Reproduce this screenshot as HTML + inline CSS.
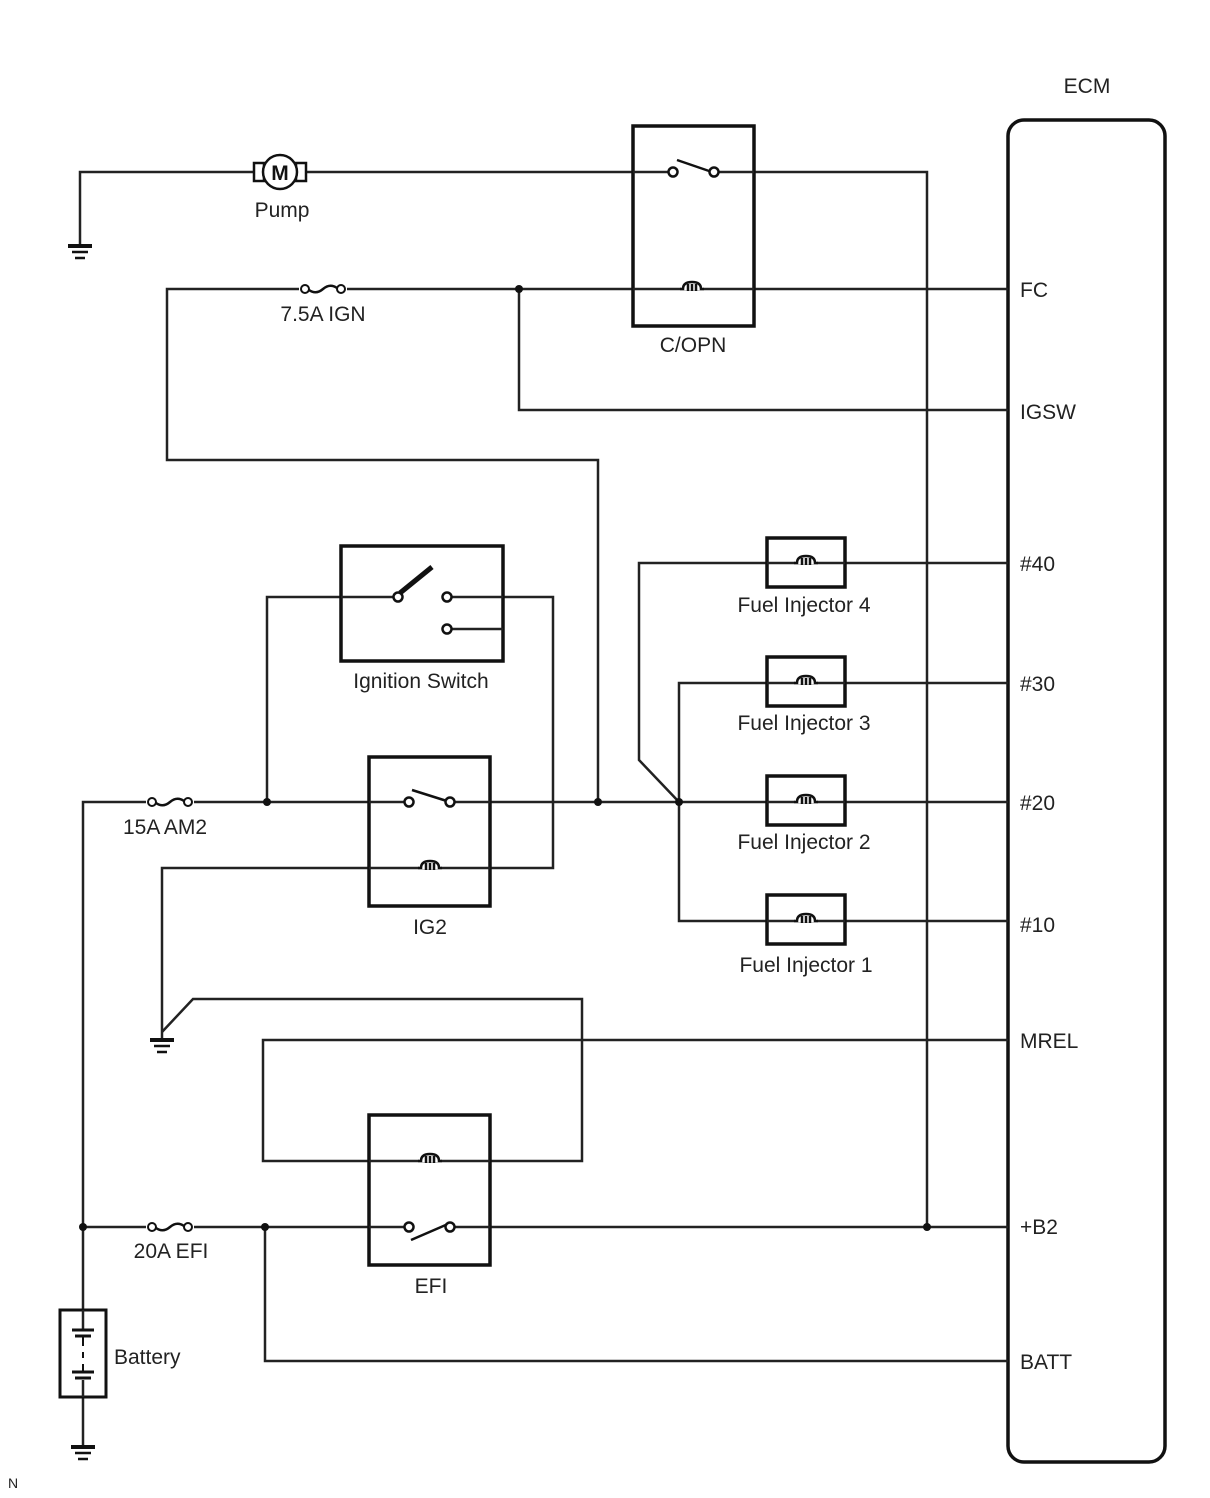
<!DOCTYPE html>
<html><head><meta charset="utf-8"><style>
html,body{margin:0;padding:0;background:#fff;}
svg{display:block;}
text{font-family:"Liberation Sans",Arial,sans-serif;font-size:21px;fill:#222;}
</style></head><body>
<svg width="1210" height="1498" viewBox="0 0 1210 1498" xmlns="http://www.w3.org/2000/svg">
<defs>
<g id="coil"><rect x="-11" y="-8" width="22" height="9" fill="#fff" stroke="none"/><path d="M-12,0 L-9,0 Q-9,-7 0,-7 Q9,-7 9,0 L12,0" fill="none" stroke="#111" stroke-width="2.5"/><path d="M-4,-5 V2 M0,-5 V2 M4,-5 V2" stroke="#111" stroke-width="2.5"/></g>
<g id="fuse"><rect x="-24" y="-6" width="48" height="12" fill="#fff"/><circle cx="-18" cy="0" r="4" fill="#fff" stroke="#111" stroke-width="2"/><circle cx="18" cy="0" r="4" fill="#fff" stroke="#111" stroke-width="2"/><path d="M-14,1 Q-7,6 0,0 Q7,-6 14,-1" fill="none" stroke="#111" stroke-width="2.5"/></g>
<g id="gnd"><path d="M-12,0 H12" stroke="#111" stroke-width="4"/><path d="M-8,6 H8 M-5,12 H5" stroke="#111" stroke-width="2.5"/></g>
</defs>
<g fill="none" stroke="#222" stroke-width="2.5">
<rect x="1008" y="120" width="157" height="1342" rx="16" stroke="#111" stroke-width="3.5"/>
<path d="M80,246 V172 H927 V1227"/>
<path d="M1008,289 H167 V460 H598 V802"/>
<path d="M519,289 V410 H1008"/>
<path d="M83,1310 V802 H1008"/>
<path d="M267,802 V597 H398"/>
<path d="M447,597 H553 V868 H162 V1038"/>
<path d="M1008,563 H639 V760 L679,802"/>
<path d="M1008,683 H679 V921 H1008"/>
<path d="M162,1032 L193,999 H582 V1161 H263 V1040 H1008"/>
<path d="M83,1227 H1008"/>
<path d="M265,1227 V1361 H1008"/>
<path d="M83,1397 V1445"/>
</g>
<g fill="#fff" stroke="#111" stroke-width="3.5">
<rect x="633" y="126" width="121" height="200"/>
<rect x="341" y="546" width="162" height="115"/>
<rect x="369" y="757" width="121" height="149"/>
<rect x="369" y="1115" width="121" height="150"/>
<rect x="767" y="538" width="78" height="49"/>
<rect x="767" y="657" width="78" height="49"/>
<rect x="767" y="776" width="78" height="49"/>
<rect x="767" y="895" width="78" height="49"/>
<rect x="60" y="1310" width="46" height="87" stroke-width="3"/>
</g>
<g stroke="#222" stroke-width="2.5" fill="none">
<path d="M633,289 H754 M369,868 H490 M369,1161 H490"/>
<path d="M767,563 H845 M767,683 H845 M767,802 H845 M767,921 H845"/>
<path d="M633,172 H673 M714,172 H754 M369,802 H409 M450,802 H490 M369,1227 H409 M450,1227 H490 M341,597 H398 M447,597 H503 M447,629 H503"/>
<path d="M83,1310 V1330 M83,1380 V1397"/>
</g>
<g stroke="#111" stroke-width="2.5" fill="#fff">
<path d="M677,160 L712,172" fill="none"/>
<circle cx="673" cy="172" r="4.5"/><circle cx="714" cy="172" r="4.5"/>
<path d="M412,790 L450,802" fill="none"/>
<circle cx="409" cy="802" r="4.5"/><circle cx="450" cy="802" r="4.5"/>
<path d="M411,1240 L448,1224" fill="none"/>
<circle cx="409" cy="1227" r="4.5"/><circle cx="450" cy="1227" r="4.5"/>
<path d="M400,593 L432,567" fill="none" stroke-width="5"/>
<circle cx="398" cy="597" r="4.5"/><circle cx="447" cy="597" r="4.5"/><circle cx="447" cy="629" r="4.5"/>
</g>
<use href="#coil" x="692" y="289"/>
<use href="#coil" x="430" y="868"/>
<use href="#coil" x="430" y="1161"/>
<use href="#coil" x="806" y="563"/>
<use href="#coil" x="806" y="683"/>
<use href="#coil" x="806" y="802"/>
<use href="#coil" x="806" y="921"/>
<use href="#fuse" x="323" y="289"/>
<use href="#fuse" x="170" y="802"/>
<use href="#fuse" x="170" y="1227"/>
<use href="#gnd" x="80" y="246"/>
<use href="#gnd" x="162" y="1040"/>
<use href="#gnd" x="83" y="1447"/>
<g stroke="#111" stroke-width="2.5" fill="#fff">
<rect x="254" y="163" width="10" height="18"/><rect x="296" y="163" width="10" height="18"/>
<circle cx="280" cy="172" r="17"/>
</g>
<text x="280" y="180" text-anchor="middle" style="font-weight:bold;font-size:21px;fill:#111">M</text>
<g stroke="#111">
<path d="M72,1330 H94 M75,1336 H91 M72,1372 H94 M75,1378 H91" stroke-width="3"/>
<path d="M83,1336 V1346 M83,1352 V1358 M83,1364 V1372" stroke-width="2"/>
</g>
<g fill="#111">
<circle cx="519" cy="289" r="4"/><circle cx="267" cy="802" r="4"/><circle cx="598" cy="802" r="4"/><circle cx="679" cy="802" r="4"/>
<circle cx="83" cy="1227" r="4"/><circle cx="265" cy="1227" r="4"/><circle cx="927" cy="1227" r="4"/>
</g>
<text x="1087" y="93" text-anchor="middle">ECM</text>
<text x="282" y="217" text-anchor="middle">Pump</text>
<text x="323" y="321" text-anchor="middle">7.5A IGN</text>
<text x="693" y="352" text-anchor="middle">C/OPN</text>
<text x="421" y="688" text-anchor="middle">Ignition Switch</text>
<text x="165" y="834" text-anchor="middle">15A AM2</text>
<text x="430" y="934" text-anchor="middle">IG2</text>
<text x="171" y="1258" text-anchor="middle">20A EFI</text>
<text x="431" y="1293" text-anchor="middle">EFI</text>
<text x="114" y="1364">Battery</text>
<text x="804" y="612" text-anchor="middle">Fuel Injector 4</text>
<text x="804" y="730" text-anchor="middle">Fuel Injector 3</text>
<text x="804" y="849" text-anchor="middle">Fuel Injector 2</text>
<text x="806" y="972" text-anchor="middle">Fuel Injector 1</text>
<text x="1020" y="297">FC</text>
<text x="1020" y="419">IGSW</text>
<text x="1020" y="571">#40</text>
<text x="1020" y="691">#30</text>
<text x="1020" y="810">#20</text>
<text x="1020" y="932">#10</text>
<text x="1020" y="1048">MREL</text>
<text x="1020" y="1234">+B2</text>
<text x="1020" y="1369">BATT</text>
<text x="8" y="1488" style="font-size:14px">N</text>
</svg>
</body></html>
